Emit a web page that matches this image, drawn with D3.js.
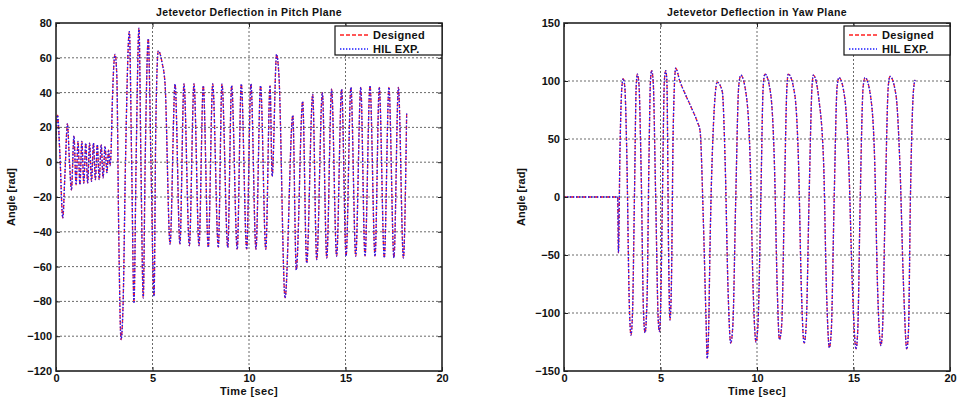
<!DOCTYPE html>
<meta charset="utf-8">
<script src="https://d3js.org/d3.v7.min.js"></script>
<style>
  body { margin: 0; background: #fff; }
  text { font-family: "Liberation Sans", Arial, sans-serif; font-weight: bold; fill: #111; }
</style>
<div id="chart"></div>
<script>

// ---- data ----
var xTicks = [0, 5, 10, 15, 20];
var pitchTicks = [-120, -100, -80, -60, -40, -20, 0, 20, 40, 60, 80];
var yawTicks = [-150, -100, -50, 0, 50, 100, 150];
var seriesNames = ["Designed", "HIL EXP."];

var pitchTime = [0,0.08,0.2,0.35,0.47,0.59,0.7,0.8,0.93,
  1.04,1.14,1.24,1.34,1.44,1.54,1.64,1.74,1.84,1.94,2.04,2.14,2.24,2.34,2.44,2.54,2.64,
  2.72,2.8,2.85,2.92,3.06,3.15,3.25,3.37,3.48,3.6,
  3.8,3.92,4.04,4.15,4.3,4.4,4.52,4.62,4.78,4.92,5.08,5.17,5.3,5.5,5.65,
  5.91,6.17,6.42,6.63,6.91,7.15,7.41,7.63,7.89,8.12,8.41,8.6,8.9,9.1,9.39,9.6,9.88,10.1,10.36,10.6,10.87,11.09,
  11.2,11.43,11.55,11.87,12.27,12.45,
  12.78,12.99,13.3,13.51,13.8,14.03,14.28,14.54,14.8,15.03,15.28,15.53,15.79,16.01,16.27,16.53,16.75,17.01,17.25,17.51,17.74,18.0,18.17];
var pitchDesigned = [12,27,5,-32,-5,22,0,-16,15,
  -13,12,-13,12,-12,11,-12,11,-11,11,-10,10,-10,10,-9,9,-6,
  7,-2,5,35,62,50,-40,-102,-80,0,
  75,0,-81,0,77,0,-78,0,71,0,-77,20,64,57,45,
  -47,45,-47,45,-48,45,-48,44,-49,45,-49,45,-49,44,-50,45,-50,45,-50,44,-50,44,
  -8,62,50,-78,27,-62,
  35,-58,39,-56,40,-55,42,-54,42,-54,43,-54,43,-54,44,-54,43,-55,43,-55,43,-55,29];
var pitchHil = pitchDesigned;

var yawTime = [0,2.78,2.82,2.9,3.0,3.07,3.15,3.25,3.38,3.47,3.55,3.65,3.74,3.8,3.88,4.0,4.12,4.2,4.3,4.4,
  4.48,4.54,4.62,4.75,4.88,4.94,5.0,5.1,5.2,5.27,5.33,5.42,5.49,5.56,5.66,5.79,6.0,6.3,6.6,6.9,
  7.05,7.22,7.36,7.42,7.5,7.56,7.74,7.94,8.2,8.35,8.5,8.64,8.75,8.9,9.05,9.16,9.45,9.65,9.8,9.95,
  10.05,10.2,10.32,10.41,10.7,10.9,11.05,11.16,11.28,11.42,11.55,11.62,11.95,12.15,12.3,12.44,12.55,12.7,12.85,12.92,
  13.2,13.45,13.6,13.75,13.85,14.0,14.15,14.25,14.55,14.75,14.95,15.13,15.22,15.35,15.5,15.6,15.9,16.1,16.25,16.42,
  16.5,16.65,16.8,16.89,17.2,17.4,17.6,17.76,17.85,17.95,18.1,18.19];
var yawDesigned = [0,0,-48,40,95,102,95,40,-90,-119,-100,0,95,106,98,20,-100,-117,-90,30,
  100,109,100,0,-105,-116,-100,0,100,109,100,-50,-106,-80,60,111,100,88,77,65,
  57,-20,-106,-139,-110,-48,61,99,91,30,-80,-126,-110,0,95,105,87,30,-80,-125,
  -110,0,95,106,90,30,-80,-123,-110,0,95,106,89,30,-80,-126,-110,0,95,105,
  85,30,-80,-130,-115,0,95,103,85,30,-80,-131,-115,0,95,103,85,30,-80,-128,
  -115,0,95,104,88,30,-80,-131,-115,0,90,101];
var yawHil = yawDesigned;

// ---- layout ----
var svg = d3.select("#chart").append("svg")
    .attr("width", 957)
    .attr("height", 403);

var lineStyles = [
  {color: "#ff2020", dash: "4,2", width: 1.3},
  {color: "#1a1aff", dash: "1.4,1.6", width: 1.3}
];

function drawPanel(p) {
  var x = d3.scaleLinear().domain([0, 20]).range([p.left, p.right]);
  var y = d3.scaleLinear().domain([p.ticks[0], p.ticks[p.ticks.length - 1]]).range([p.bottom, p.top]);
  var g = svg.append("g");

  g.append("clipPath").attr("id", p.id + "clip")
    .append("rect")
    .attr("x", p.left).attr("y", p.top)
    .attr("width", p.right - p.left).attr("height", p.bottom - p.top);

  // GRID
  g.selectAll(".hgrid").data(p.ticks.slice(1, -1)).enter().append("line")
    .attr("x1", p.left).attr("x2", p.right)
    .attr("y1", function(d) { return y(d); }).attr("y2", function(d) { return y(d); })
    .attr("stroke", "#444").attr("stroke-width", 0.8).attr("stroke-dasharray", "2,2");
  g.selectAll(".vgrid").data(xTicks.slice(1, -1)).enter().append("line")
    .attr("x1", function(d) { return x(d); }).attr("x2", function(d) { return x(d); })
    .attr("y1", p.top).attr("y2", p.bottom)
    .attr("stroke", "#444").attr("stroke-width", 0.8).attr("stroke-dasharray", "2,2");

  // LINES
  var line = d3.line()
    .x(function(d) { return x(d[0]); })
    .y(function(d) { return y(d[1]); })
    .curve(d3.curveMonotoneX);
  p.series.forEach(function(vals, i) {
    var pts = p.time.map(function(t, k) { return [t, vals[k]]; });
    g.append("path")
      .datum(pts)
      .attr("clip-path", "url(#" + p.id + "clip)")
      .attr("fill", "none")
      .attr("stroke", lineStyles[i].color)
      .attr("stroke-width", lineStyles[i].width)
      .attr("stroke-dasharray", lineStyles[i].dash)
      .attr("d", line);
  });

  // AXES (ticks pointing in, like matlab)
  var xa = g.append("g")
    .attr("transform", "translate(0," + p.bottom + ")")
    .call(d3.axisBottom(x).tickValues(xTicks).tickSizeInner(-4).tickSizeOuter(0).tickPadding(3));
  var xt = g.append("g")
    .attr("transform", "translate(0," + p.top + ")")
    .call(d3.axisTop(x).tickValues(xTicks).tickSizeInner(-4).tickSizeOuter(0).tickFormat(""));
  var ya = g.append("g")
    .attr("transform", "translate(" + p.left + ",0)")
    .call(d3.axisLeft(y).tickValues(p.ticks).tickSizeInner(-4).tickSizeOuter(0).tickPadding(4));
  var yr = g.append("g")
    .attr("transform", "translate(" + p.right + ",0)")
    .call(d3.axisRight(y).tickValues(p.ticks).tickSizeInner(-4).tickSizeOuter(0).tickFormat(""));
  [xa, xt, ya, yr].forEach(function(a) {
    a.select(".domain").remove();
    a.selectAll("text").style("font-size", "11px").style("font-weight", "bold")
      .style("font-family", "'Liberation Sans', Arial, sans-serif").attr("fill", "#111");
    a.selectAll(".tick line").attr("stroke", "#222");
  });

  // FRAME
  g.append("rect")
    .attr("x", p.left).attr("y", p.top)
    .attr("width", p.right - p.left).attr("height", p.bottom - p.top)
    .attr("fill", "none").attr("stroke", "#222").attr("stroke-width", 1.6);

  // TITLE + LABELS
  g.append("text")
    .attr("x", (p.left + p.right) / 2).attr("y", 16)
    .attr("text-anchor", "middle").style("font-size", "10.5px").style("letter-spacing", "0.4px")
    .text(p.title);
  g.append("text")
    .attr("x", (p.left + p.right) / 2).attr("y", 395)
    .attr("text-anchor", "middle").style("font-size", "11px").style("letter-spacing", "0.4px")
    .text("Time [sec]");
  g.append("text")
    .attr("transform", "translate(" + (p.left - p.labelOff) + "," + ((p.top + p.bottom) / 2) + ") rotate(-90)")
    .attr("text-anchor", "middle").style("font-size", "11px")
    .text("Angle [rad]");

  // LEGEND
  var lg = g.append("g");
  lg.append("rect")
    .attr("x", p.legendX).attr("y", 26)
    .attr("width", p.right - p.legendX).attr("height", 29)
    .attr("fill", "#fff").attr("stroke", "#111").attr("stroke-width", 1.2);
  seriesNames.forEach(function(name, i) {
    var ly = 35 + i * 14;
    lg.append("line")
      .attr("x1", p.legendX + 5).attr("x2", p.legendX + 33)
      .attr("y1", ly).attr("y2", ly)
      .attr("stroke", lineStyles[i].color)
      .attr("stroke-width", lineStyles[i].width)
      .attr("stroke-dasharray", lineStyles[i].dash);
    lg.append("text")
      .attr("x", p.legendX + 38).attr("y", ly + 4)
      .style("font-size", "11px").style("letter-spacing", "0.3px")
      .text(name);
  });
}

drawPanel({
  id: "pitch", left: 56, right: 442, top: 23, bottom: 371, labelOff: 41,
  ticks: pitchTicks, time: pitchTime, series: [pitchDesigned, pitchHil],
  title: "Jetevetor Deflection in Pitch Plane", legendX: 335
});
drawPanel({
  id: "yaw", left: 564, right: 950, top: 23, bottom: 371, labelOff: 39,
  ticks: yawTicks, time: yawTime, series: [yawDesigned, yawHil],
  title: "Jetevetor Deflection in Yaw Plane", legendX: 844
});

</script>
